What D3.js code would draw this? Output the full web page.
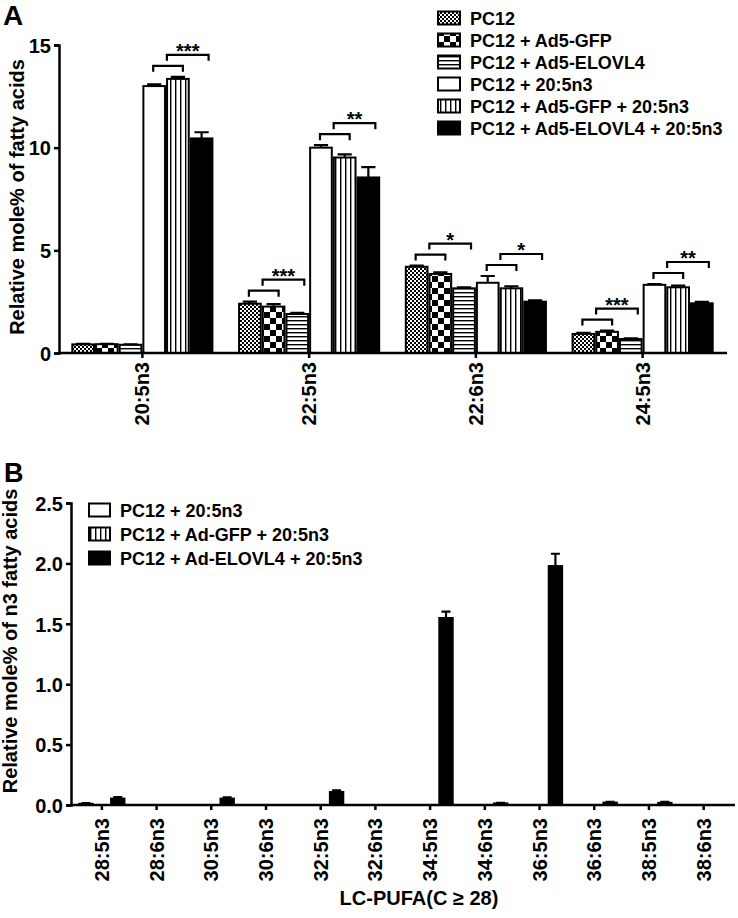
<!DOCTYPE html>
<html><head><meta charset="utf-8">
<script src="https://cdn.jsdelivr.net/npm/d3@7"></script>
<style>
body{margin:0;background:#fff;}
text{font-family:Arial,"Liberation Sans",Helvetica,sans-serif;font-weight:bold;fill:#000;}
</style></head>
<body>
<svg id="chart" width="738" height="918"></svg>
<script>
// ---------- Panel A data ----------
const groupsA = ["20:5n3","22:5n3","22:6n3","24:5n3"];
const seriesA = ["PC12","PC12 + Ad5-GFP","PC12 + Ad5-ELOVL4","PC12 + 20:5n3","PC12 + Ad5-GFP + 20:5n3","PC12 + Ad5-ELOVL4 + 20:5n3"];
const pc12A        = [0.42, 2.40, 4.20, 0.93];
const gfpA         = [0.43, 2.26, 3.85, 1.03];
const elovlA       = [0.40, 1.90, 3.15, 0.68];
const epaA         = [13.00, 10.00, 3.42, 3.32];
const gfpEpaA      = [13.35, 9.52, 3.15, 3.20];
const elovlEpaA    = [10.45, 8.55, 2.50, 2.42];
const pc12ErrA     = [0.02, 0.10, 0.06, 0.05];
const gfpErrA      = [0.02, 0.12, 0.08, 0.06];
const elovlErrA    = [0.02, 0.05, 0.05, 0.03];
const epaErrA      = [0.08, 0.12, 0.33, 0.04];
const gfpEpaErrA   = [0.10, 0.15, 0.10, 0.08];
const elovlEpaErrA = [0.30, 0.50, 0.06, 0.07];
const ticksA = [0, 5, 10, 15];
// significance: group, three bar indices, stars
const sigGroups = ["20:5n3","22:5n3","22:5n3","22:6n3","22:6n3","24:5n3","24:5n3"];
const sigBars   = [[3,4,5],[0,1,2],[3,4,5],[0,1,2],[3,4,5],[0,1,2],[3,4,5]];
const sigLabels = ["***","***","**","*","*","***","**"];

// ---------- Panel B data ----------
const groupsB = ["28:5n3","28:6n3","30:5n3","30:6n3","32:5n3","32:6n3","34:5n3","34:6n3","36:5n3","36:6n3","38:5n3","38:6n3"];
const seriesB = ["PC12 + 20:5n3","PC12 + Ad-GFP + 20:5n3","PC12 + Ad-ELOVL4 + 20:5n3"];
const epaB      = [0.012, 0, 0, 0, 0, 0, 0, 0, 0, 0, 0, 0];
const gfpEpaB   = [0, 0, 0, 0, 0, 0, 0, 0, 0, 0, 0, 0];
const elovlEpaB = [0.055, 0, 0.055, 0, 0.11, 0, 1.55, 0.015, 1.98, 0.022, 0.02, 0];
const epaErrB      = [0.003, 0, 0, 0, 0, 0, 0, 0, 0, 0, 0, 0];
const gfpEpaErrB   = [0, 0, 0, 0, 0, 0, 0, 0, 0, 0, 0, 0];
const elovlEpaErrB = [0.01, 0, 0.008, 0, 0.012, 0, 0.05, 0.003, 0.10, 0.004, 0.006, 0];
const ticksB = [0, 0.5, 1.0, 1.5, 2.0, 2.5];
const xTitleB = "LC-PUFA(C \u2265 28)";

const svg = d3.select("#chart");
const defs = svg.append("defs");

// patterns
function pat(id, w, h, draw){
  const p = defs.append("pattern").attr("id", id).attr("patternUnits","userSpaceOnUse")
    .attr("width", w).attr("height", h);
  p.append("rect").attr("width", w).attr("height", h).attr("fill","#fff");
  draw(p);
}
pat("fineChk", 4, 4, p => {
  p.append("rect").attr("x",0).attr("y",0).attr("width",2).attr("height",2).attr("fill","#000");
  p.append("rect").attr("x",2).attr("y",2).attr("width",2).attr("height",2).attr("fill","#000");
});
pat("bigChk", 12, 12, p => {
  p.append("rect").attr("x",0).attr("y",0).attr("width",6).attr("height",6).attr("fill","#000");
  p.append("rect").attr("x",6).attr("y",6).attr("width",6).attr("height",6).attr("fill","#000");
});
pat("hStripe", 8, 4, p => {
  p.append("rect").attr("x",0).attr("y",0).attr("width",8).attr("height",1.4).attr("fill","#000");
});
pat("vStripe", 5, 8, p => {
  p.append("rect").attr("x",0).attr("y",0).attr("width",1.4).attr("height",8).attr("fill","#000");
});
const fillsA = ["url(#fineChk)","url(#bigChk)","url(#hStripe)","#fff","url(#vStripe)","#000"];
const fillsB = ["#fff","url(#vStripe)","#000"];

function drawAxisY(g, scale, ticks, fmt){
  const ax = g.append("g").call(d3.axisLeft(scale).tickValues(ticks).tickFormat(fmt).tickSize(5).tickPadding(3));
  ax.select(".domain").attr("stroke-width",2.5).attr("stroke","#000");
  ax.selectAll(".tick line").attr("stroke-width",2.5).attr("stroke","#000");
  ax.selectAll(".tick text").style("font-size","20px").style("font-weight","bold").attr("dy","0.36em");
  return ax;
}

// ================= Panel A =================
const xA = d3.scaleBand().domain(groupsA).range([59, 726]);
const yA = d3.scaleLinear().domain([0, 15]).range([353, 45]);
const xsA = d3.scaleBand().domain(seriesA).range([0, xA.bandwidth()]).paddingOuter(0.52).paddingInner(0);
const valsA = [pc12A, gfpA, elovlA, epaA, gfpEpaA, elovlEpaA];
const errsA = [pc12ErrA, gfpErrA, elovlErrA, epaErrA, gfpEpaErrA, elovlEpaErrA];

const gA = svg.append("g");
const barDataA = [];
groupsA.forEach((gname, gi) => seriesA.forEach((s, si) => {
  barDataA.push({g: gname, s, si, v: valsA[si][gi], e: errsA[si][gi]});
}));
const bwA = xsA.bandwidth();
gA.selectAll("path.errA").data(barDataA).join("path")
  .attr("d", d => {
    const cx = xA(d.g) + xsA(d.s) + bwA/2;
    const y1 = yA(d.v), y2 = yA(d.v + d.e);
    return `M${cx},${y1}V${y2}M${cx - bwA*0.3},${y2}H${cx + bwA*0.3}`;
  })
  .attr("stroke","#000").attr("stroke-width",2.2).attr("fill","none");
gA.selectAll("rect.barA").data(barDataA).join("rect")
  .attr("x", d => xA(d.g) + xsA(d.s) + 1)
  .attr("y", d => yA(d.v))
  .attr("width", bwA - 2)
  .attr("height", d => yA(0) - yA(d.v))
  .attr("fill", d => fillsA[d.si])
  .attr("stroke","#000").attr("stroke-width",2);

drawAxisY(gA, yA, ticksA, d3.format("d")).attr("transform","translate(59,0)");
gA.append("line").attr("x1",59).attr("x2",727).attr("y1",yA(0)).attr("y2",yA(0)).attr("stroke","#000").attr("stroke-width",2.5);
groupsA.forEach(gname => {
  const cx = xA(gname) + xA.bandwidth()/2;
  gA.append("line").attr("x1",cx).attr("x2",cx).attr("y1",yA(0)).attr("y2",yA(0)+5).attr("stroke","#000").attr("stroke-width",2.5);
  gA.append("text").attr("transform",`translate(${cx+7},362) rotate(-90)`).attr("text-anchor","end")
    .style("font-size","20px").text(gname);
});
gA.append("text").attr("transform",`translate(24,197) rotate(-90)`).attr("text-anchor","middle")
  .style("font-size","20px").text("Relative mole% of fatty acids");
svg.append("text").attr("x",3).attr("y",25).style("font-size","28px").text("A");

// significance brackets
sigGroups.forEach((gname, k) => {
  const idx = sigBars[k];
  const c = idx.map(i => xA(gname) + xsA(seriesA[i]) + bwA/2);
  const gi = groupsA.indexOf(gname);
  const top01 = Math.min(yA(valsA[idx[0]][gi] + errsA[idx[0]][gi]), yA(valsA[idx[1]][gi] + errsA[idx[1]][gi]));
  const b1 = top01 - 11, b2 = b1 - 11;
  const x1a = c[0] - 1, x1b = c[1] + 5, x2a = c[1] - 11, x2b = c[2] + 7;
  gA.append("path").attr("d", `M${x1a},${b1+6}V${b1}H${x1b}V${b1+6}`).attr("stroke","#000").attr("stroke-width",2.2).attr("fill","none");
  gA.append("path").attr("d", `M${x2a},${b2+6}V${b2}H${x2b}V${b2+6}`).attr("stroke","#000").attr("stroke-width",2.2).attr("fill","none");
  gA.append("text").attr("x",(x2a+x2b)/2).attr("y",b2+3).attr("text-anchor","middle").style("font-size","20px").text(sigLabels[k]);
});

// legend A
const legA = svg.append("g");
seriesA.forEach((s, i) => {
  const cy = 18 + i*22;
  legA.append("rect").attr("x",438).attr("y",cy-6.5).attr("width",22).attr("height",13)
    .attr("fill",fillsA[i]).attr("stroke","#000").attr("stroke-width",2);
  legA.append("text").attr("x",470).attr("y",cy+6.5).style("font-size","18px").text(s);
});

// ================= Panel B =================
const xB = d3.scaleBand().domain(groupsB).range([74.5, 731]);
const yB = d3.scaleLinear().domain([0, 2.5]).range([805, 503]);
const xsB = d3.scaleBand().domain(seriesB).range([0, xB.bandwidth()]).paddingOuter(0.22).paddingInner(0);
const valsB = [epaB, gfpEpaB, elovlEpaB];
const errsB = [epaErrB, gfpEpaErrB, elovlEpaErrB];
const bwB = xsB.bandwidth();
const gB = svg.append("g");
const barDataB = [];
groupsB.forEach((gname, gi) => seriesB.forEach((s, si) => {
  if (valsB[si][gi] > 0) barDataB.push({g: gname, s, si, v: valsB[si][gi], e: errsB[si][gi]});
}));
gB.selectAll("path.errB").data(barDataB).join("path")
  .attr("d", d => {
    const cx = xB(d.g) + xsB(d.s) + bwB/2;
    const y1 = yB(d.v), y2 = yB(d.v + d.e);
    return `M${cx},${y1}V${y2}M${cx - 4.5},${y2}H${cx + 4.5}`;
  })
  .attr("stroke","#000").attr("stroke-width",2.2).attr("fill","none");
gB.selectAll("rect.barB").data(barDataB).join("rect")
  .attr("x", d => xB(d.g) + xsB(d.s) + 1)
  .attr("y", d => yB(d.v))
  .attr("width", bwB - 2)
  .attr("height", d => yB(0) - yB(d.v))
  .attr("fill", d => fillsB[d.si])
  .attr("stroke","#000").attr("stroke-width",1.5);

drawAxisY(gB, yB, ticksB, d3.format(".1f")).attr("transform","translate(71,0)");
gB.append("line").attr("x1",71).attr("x2",735).attr("y1",yB(0)).attr("y2",yB(0)).attr("stroke","#000").attr("stroke-width",2.5);
groupsB.forEach(gname => {
  const cx = xB(gname) + xB.bandwidth()/2;
  gB.append("line").attr("x1",cx).attr("x2",cx).attr("y1",yB(0)).attr("y2",yB(0)+5).attr("stroke","#000").attr("stroke-width",2.5);
  gB.append("text").attr("transform",`translate(${cx+7},818) rotate(-90)`).attr("text-anchor","end")
    .style("font-size","20px").text(gname);
});
gB.append("text").attr("transform",`translate(17,641) rotate(-90)`).attr("text-anchor","middle")
  .style("font-size","20px").text("Relative mole% of n3 fatty acids");
gB.append("text").attr("x",419).attr("y",905).attr("text-anchor","middle").style("font-size","20px").text(xTitleB);
svg.append("text").attr("x",4).attr("y",482).style("font-size","27px").text("B");

const legB = svg.append("g");
seriesB.forEach((s, i) => {
  const cy = 510 + i*24;
  legB.append("rect").attr("x",89).attr("y",cy-6.5).attr("width",21).attr("height",13)
    .attr("fill",fillsB[i]).attr("stroke","#000").attr("stroke-width",2);
  legB.append("text").attr("x",120).attr("y",cy+6.5).style("font-size","18px").text(s);
});
</script>
</body></html>
